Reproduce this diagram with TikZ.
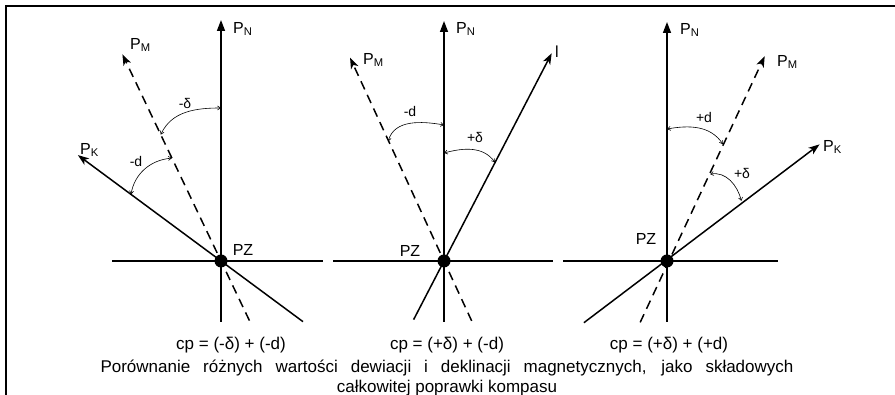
\documentclass[tikz,border=0pt]{standalone}
\usepackage{fontspec}
\setmainfont{Liberation Sans}
\usetikzlibrary{arrows.meta}

\begin{document}
\begin{tikzpicture}[x=1pt,y=1pt,
    axisline/.style={line width=1.5pt},
    magline/.style={line width=1.5pt, dash pattern=on 9pt off 6pt},
    northarrow/.style={-{Triangle[length=11pt,width=8pt]}},
    tiparrow/.style={-{Stealth[length=11pt,width=8pt,inset=3pt]}},
    anglearrow/.style={line width=0.6pt, {Straight Barb[length=3pt,width=4pt]}-{Straight Barb[length=3pt,width=4pt]}},
    lbl/.style={font=\fontsize{16}{18}\selectfont, inner sep=0pt},
    anglbl/.style={font=\fontsize{14}{16}\selectfont, inner sep=0pt},
    caption/.style={font=\fontsize{17}{20}\selectfont, inner sep=0pt},
    pole/.style={circle, fill=black, minimum size=13pt, inner sep=0pt}]
				\useasboundingbox (0,0) rectangle (895,395);
				
				% Frame
				\draw[line width=2pt] (895,389) -- (6,389) -- (6,0);
				
				% Centres of the three sketches
				\coordinate (o1) at (221,134);
				\coordinate (o2) at (444,134);
				\coordinate (o3) at (667,134);
				
				% First sketch: cp = (-delta) + (-d)
				\coordinate (n1) at (221,375);
				\coordinate (nb1) at (221,73);
				\path (o1) ++(115.5:229) coordinate (m1);
				\path (o1) ++(-64.5:66) coordinate (mb1);
				\path (o1) ++(143.5:178) coordinate (k1);
				\path (o1) ++(-36.5:102) coordinate (kb1);
				\coordinate (h1l) at (112,134);
				\coordinate (h1r) at (323,134);
				\draw[axisline] (h1l) -- (h1r);
				\draw[axisline, northarrow] (nb1) -- (n1);
				\draw[magline, tiparrow] (mb1) -- (m1);
				\draw[axisline, tiparrow] (kb1) -- (k1);
				\path (o1) ++(115.5:140) coordinate (a1);
				\path (o1) ++(90:153) coordinate (b1);
				\path (o1) ++(143.5:112) coordinate (c1);
				\path (o1) ++(115.5:114) coordinate (e1);
				\draw[anglearrow] (a1) to[out=65, in=180] (b1);
				\draw[anglearrow] (c1) to[out=80, in=185] (e1);
				\node[lbl, anchor=west] (pn1) at (233,366) {P\textsubscript{N}};
				\node[lbl, anchor=west] (pm1) at (130,350) {P\textsubscript{M}};
				\node[lbl, anchor=west] (pk1) at (80,245) {P\textsubscript{K}};
				\node[anglbl] (dl1) at (185,291) {-δ};
				\node[anglbl] (dd1) at (136,233) {-d};
				\node[lbl] (pzt1) at (243,145) {PZ};
				\node[pole] (pz1) at (o1) {};
				
				% Second sketch: cp = (+delta) + (-d)
				\coordinate (n2) at (444,374);
				\coordinate (nb2) at (444,73);
				\path (o2) ++(114.8:224) coordinate (m2);
				\path (o2) ++(-65.2:66) coordinate (mb2);
				\path (o2) ++(62.6:234) coordinate (l2);
				\path (o2) ++(242.6:66) coordinate (lb2);
				\coordinate (h2l) at (333,134);
				\coordinate (h2r) at (553,134);
				\draw[axisline] (h2l) -- (h2r);
				\draw[axisline, northarrow] (nb2) -- (n2);
				\draw[magline, tiparrow] (mb2) -- (m2);
				\draw[axisline, tiparrow] (lb2) -- (l2);
				\path (o2) ++(115:132) coordinate (a2);
				\path (o2) ++(90:136) coordinate (b2);
				\path (o2) ++(90:108) coordinate (c2);
				\path (o2) ++(62.6:111) coordinate (e2);
				\draw[anglearrow] (a2) to[out=75, in=170] (b2);
				\draw[anglearrow] (c2) to[out=15, in=126] (e2);
				\node[lbl, anchor=west] (pn2) at (456,366) {P\textsubscript{N}};
				\node[lbl, anchor=west] (pm2) at (363,335) {P\textsubscript{M}};
				\node[lbl, anchor=west] (ll2) at (555,343) {l};
				\node[anglbl] (dd2) at (410,283) {-d};
				\node[anglbl] (dl2) at (475,257) {+δ};
				\node[lbl] (pzt2) at (410,144) {PZ};
				\node[pole] (pz2) at (o2) {};
				
				% Third sketch: cp = (+delta) + (+d)
				\coordinate (n3) at (667,373);
				\coordinate (nb3) at (667,73);
				\path (o3) ++(64.5:227) coordinate (m3);
				\path (o3) ++(246.4:67) coordinate (mb3);
				\path (o3) ++(37.4:192) coordinate (k3);
				\path (o3) ++(216.6:103.5) coordinate (kb3);
				\coordinate (h3l) at (563,134);
				\coordinate (h3r) at (778,134);
				\draw[axisline] (h3l) -- (h3r);
				\draw[axisline, northarrow] (nb3) -- (n3);
				\draw[magline, tiparrow] (mb3) -- (m3);
				\draw[axisline, tiparrow] (kb3) -- (k3);
				\path (o3) ++(90:132) coordinate (b3);
				\path (o3) ++(64.4:129.5) coordinate (a3);
				\path (o3) ++(63.6:97) coordinate (c3);
				\path (o3) ++(38.9:95.6) coordinate (e3);
				\draw[anglearrow] (b3) to[out=10, in=124] (a3);
				\draw[anglearrow] (c3) to[out=10, in=104] (e3);
				\node[lbl, anchor=west] (pn3) at (680,365) {P\textsubscript{N}};
				\node[lbl, anchor=west] (pm3) at (777,333) {P\textsubscript{M}};
				\node[lbl, anchor=west] (pk3) at (823,248) {P\textsubscript{K}};
				\node[anglbl] (dd3) at (704,277) {+d};
				\node[anglbl] (dl3) at (742,221) {+δ};
				\node[lbl] (pzt3) at (646,156) {PZ};
				\node[pole] (pz3) at (o3) {};
				
				% Captions
				\node[caption] (cp1) at (231,50) {cp = (-δ) + (-d)};
				\node[caption] (cp2) at (447,50) {cp = (+δ) + (-d)};
				\node[caption] (cp3) at (669,50) {cp = (+δ) + (+d)};
				\node[caption] (txt1) at (447,27) {\makebox[693pt][s]{Porównanie różnych wartości dewiacji i deklinacji magnetycznych, jako składowych}};
				\node[caption] (txt2) at (447,7) {całkowitej poprawki kompasu};
			\end{tikzpicture}
\end{document}
